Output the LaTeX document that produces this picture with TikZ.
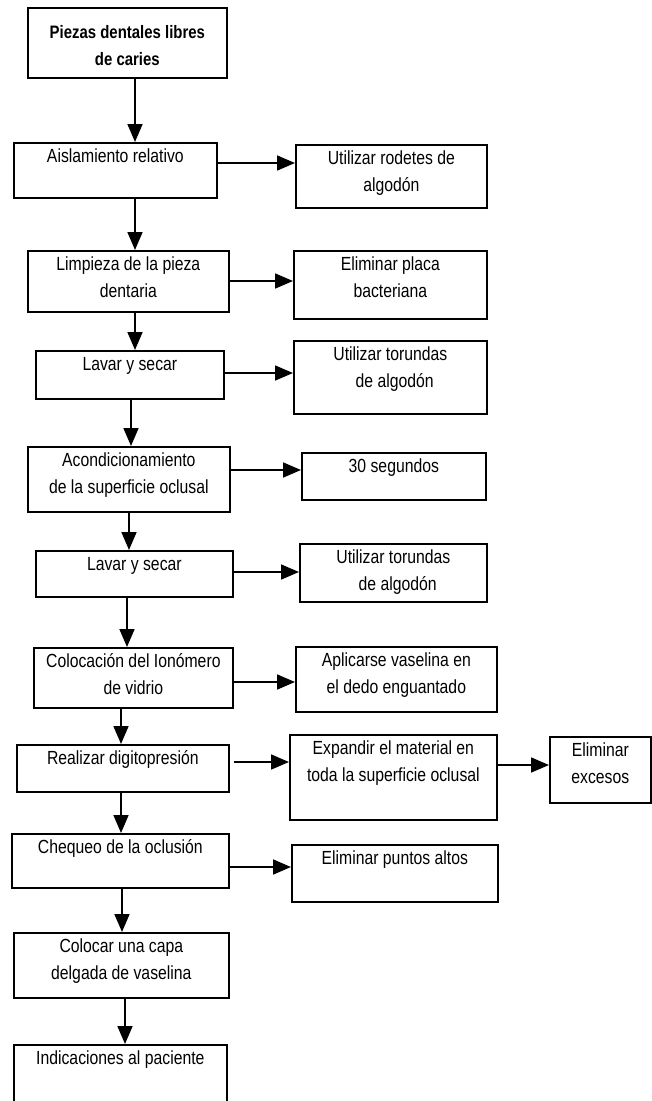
\documentclass[tikz,border=0pt]{standalone}
\usepackage{fontspec}
\setmainfont{Liberation Sans}[FakeStretch=0.83]
\usetikzlibrary{arrows.meta}
\newcommand\mkbox[5]{\node[box, anchor=north west, minimum width={(#4-#2)*1pt}, minimum height={(#5-#3)*1pt}] (#1) at (#2,#3) {};}
\begin{document}
\begin{tikzpicture}[x=1pt,y=-1pt,
  box/.style={draw, line width=1.7pt, inner sep=0pt, fill=white},
  txt/.style={inner sep=0pt, align=center, font=\fontsize{19}{27}\selectfont},
  arr/.style={line width=1.7pt, -{Triangle[length=18pt,width=15pt]}}]
\useasboundingbox (0,0) rectangle (651,1101);
% main column
\mkbox{b1}{27}{7}{226}{77}
\mkbox{b2}{13}{142}{216}{197}
\mkbox{b3}{27}{250}{228}{311}
\mkbox{b4}{35}{350}{223}{398}
\mkbox{b5}{27}{446}{229}{511}
\mkbox{b6}{35}{550}{232}{596}
\mkbox{b7}{33}{647}{232}{707}
\mkbox{b8}{16}{744}{228}{791}
\mkbox{b9}{11}{833}{228}{887}
\mkbox{b10}{13}{932}{228}{997}
\mkbox{b11}{13}{1044}{226}{1112}
% side boxes
\mkbox{s2}{295}{144}{486}{207}
\mkbox{s3}{293}{250}{486}{318}
\mkbox{s4}{293}{340}{486}{413}
\mkbox{s5}{301}{452}{485}{499}
\mkbox{s6}{299}{543}{486}{601}
\mkbox{s7}{295}{646}{496}{711}
\mkbox{s8}{289}{734}{496}{819}
\mkbox{s8b}{549}{736}{650}{802}
\mkbox{s9}{291}{844}{497}{901}
% texts
\node[txt, anchor=north, font=\fontsize{18}{27}\selectfont\bfseries] (t1) at ([yshift=-12pt]b1.north) {\strut Piezas dentales libres\\de caries};
\node[txt, anchor=north] (t2) at ([yshift=-1pt]b2.north) {\strut Aislamiento relativo};
\node[txt, anchor=north] (t3) at ([yshift=-1pt]b3.north) {\strut Limpieza de la pieza\\dentaria};
\node[txt, anchor=north] (t4) at ([yshift=-1pt]b4.north) {\strut Lavar y secar};
\node[txt, anchor=north] (t5) at ([yshift=-1pt]b5.north) {\strut Acondicionamiento\\de la superficie oclusal};
\node[txt, anchor=north] (t6) at ([yshift=-1pt]b6.north) {\strut Lavar y secar};
\node[txt, anchor=north] (t7) at ([yshift=-1pt]b7.north) {\strut Colocación del Ionómero\\de vidrio};
\node[txt, anchor=north] (t8) at ([yshift=-1pt]b8.north) {\strut Realizar digitopresión};
\node[txt, anchor=north] (t9) at ([yshift=-1pt]b9.north) {\strut Chequeo de la oclusión};
\node[txt, anchor=north] (t10) at ([yshift=-1pt]b10.north) {\strut Colocar una capa\\delgada de vaselina};
\node[txt, anchor=north] (t11) at ([yshift=-1pt]b11.north) {\strut Indicaciones al paciente};
\node[txt, anchor=north] (u2) at ([yshift=-1pt]s2.north) {\strut Utilizar rodetes de\\algodón};
\node[txt, anchor=north] (u3) at ([yshift=-1pt]s3.north) {\strut Eliminar placa\\bacteriana};
\node[txt, anchor=north] (u4) at ([yshift=-1pt]s4.north) {\strut Utilizar torundas\\\ \ de algodón};
\node[txt, anchor=north] (u5) at ([yshift=-1pt]s5.north) {\strut 30 segundos};
\node[txt, anchor=north] (u6) at ([yshift=-1pt]s6.north) {\strut Utilizar torundas\\\ \ de algodón};
\node[txt, anchor=north] (u7) at ([yshift=-1pt]s7.north) {\strut Aplicarse vaselina en\\el dedo enguantado};
\node[txt, anchor=north] (u8) at ([yshift=-1pt]s8.north) {\strut Expandir el material en\\toda la superficie oclusal};
\node[txt, anchor=north] (u8b) at ([yshift=-1pt]s8b.north) {\strut Eliminar\\excesos};
\node[txt, anchor=north] (u9) at ([yshift=-1pt]s9.north) {\strut Eliminar puntos altos};
% vertical arrow columns
\coordinate (v1) at (135,0);
\coordinate (v2) at (135,0);
\coordinate (v3) at (135,0);
\coordinate (v4) at (131,0);
\coordinate (v5) at (129,0);
\coordinate (v6) at (127,0);
\coordinate (v7) at (121,0);
\coordinate (v8) at (121,0);
\coordinate (v9) at (122,0);
\coordinate (v10) at (125,0);
\draw[arr] (v1 |- b1.south) -- (v1 |- b2.north);
\draw[arr] (v2 |- b2.south) -- (v2 |- b3.north);
\draw[arr] (v3 |- b3.south) -- (v3 |- b4.north);
\draw[arr] (v4 |- b4.south) -- (v4 |- b5.north);
\draw[arr] (v5 |- b5.south) -- (v5 |- b6.north);
\draw[arr] (v6 |- b6.south) -- (v6 |- b7.north);
\draw[arr] (v7 |- b7.south) -- (v7 |- b8.north);
\draw[arr] (v8 |- b8.south) -- (v8 |- b9.north);
\draw[arr] (v9 |- b9.south) -- (v9 |- b10.north);
\draw[arr] (v10 |- b10.south) -- (v10 |- b11.north);
% horizontal arrow rows
\coordinate (h2) at (0,163);
\coordinate (h3) at (0,281);
\coordinate (h4) at (0,373);
\coordinate (h5) at (0,470);
\coordinate (h6) at (0,572);
\coordinate (h7) at (0,682);
\coordinate (h8) at (0,762);
\coordinate (h8b) at (0,765);
\coordinate (h9) at (0,867);
\draw[arr] (b2.east |- h2) -- (s2.west |- h2);
\draw[arr] (b3.east |- h3) -- (s3.west |- h3);
\draw[arr] (b4.east |- h4) -- (s4.west |- h4);
\draw[arr] (b5.east |- h5) -- (s5.west |- h5);
\draw[arr] (b6.east |- h6) -- (s6.west |- h6);
\draw[arr] (b7.east |- h7) -- (s7.west |- h7);
\draw[arr, shorten <=4pt] (b8.east |- h8) -- (s8.west |- h8);
\draw[arr] (s8.east |- h8b) -- (s8b.west |- h8b);
\draw[arr] (b9.east |- h9) -- (s9.west |- h9);
\end{tikzpicture}
\end{document}
